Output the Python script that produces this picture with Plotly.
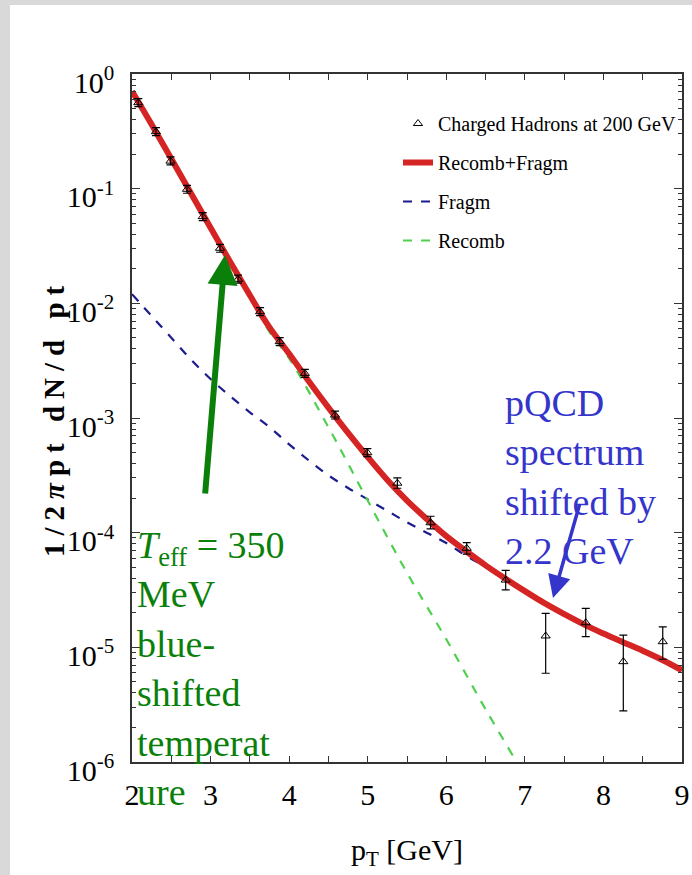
import plotly.graph_objects as go

# ---------------- data ----------------
# measured charged hadron spectrum (triangles with error bars)
pt_data = [2.08, 2.305, 2.49, 2.70, 2.90, 3.12, 3.35, 3.63, 3.88, 4.20,
           4.584, 4.995, 5.377, 5.80, 6.26, 6.756, 7.265, 7.775, 8.253, 8.755]
yield_data = [0.562, 0.314, 0.174, 0.0988, 0.057, 0.0302, 0.0162, 0.00845, 0.00463, 0.00245,
              0.00106, 0.000498, 0.00027, 0.000122, 7.31e-5, 3.86e-5, 1.256e-5, 1.64e-5, 7.5e-6, 1.12e-5]
yield_hi = [0.609, 0.340, 0.189, 0.107, 0.0618, 0.0327, 0.0176, 0.00916, 0.00502, 0.00266,
            0.00115, 0.00054, 0.000300, 0.000139, 8.2e-5, 4.69e-5, 1.98e-5, 2.19e-5, 1.28e-5, 1.51e-5]
yield_lo = [0.519, 0.290, 0.161, 0.0912, 0.0526, 0.0279, 0.0150, 0.0078, 0.00427, 0.00226,
            0.00098, 0.00046, 0.000244, 0.000108, 6.5e-5, 3.17e-5, 5.94e-6, 1.24e-5, 2.79e-6, 7.87e-6]

# model curves, log10 of the yield
pt_curve = [2.0, 2.25, 2.5, 2.75, 3.0, 3.25, 3.5, 3.75, 4.0, 4.25, 4.5, 4.75, 5.0, 5.25, 5.5,
            5.75, 6.0, 6.25, 6.5, 6.75, 7.0, 7.25, 7.5, 7.75, 8.0, 8.25, 8.5, 8.75, 9.0]
total_log10 = [-0.15, -0.44, -0.74, -1.04, -1.34, -1.64, -1.93, -2.21, -2.44, -2.68, -2.91, -3.13,
               -3.34, -3.54, -3.72, -3.88, -4.03, -4.16, -4.285, -4.40, -4.51, -4.615, -4.71, -4.80,
               -4.88, -4.955, -5.03, -5.11, -5.20]
fragm_log10 = [-1.92, -2.11, -2.30, -2.49, -2.66, -2.81, -2.95, -3.08, -3.23, -3.37, -3.50, -3.61,
               -3.71, -3.81, -3.91, -4.00, -4.09, -4.20, -4.30, -4.41, -4.51, -4.615, -4.71, -4.80,
               -4.88, -4.955, -5.03, -5.11, -5.20]
pt_recomb = [2.0, 2.5, 3.0, 3.5, 3.75, 4.0, 4.5, 5.0, 5.5, 6.0, 6.5, 7.0]
recomb_log10 = [-0.16, -0.75, -1.35, -1.95, -2.25, -2.48, -3.08, -3.72, -4.35, -4.93, -5.54, -6.12]

x_ticks = [2, 3, 4, 5, 6, 7, 8, 9]
y_tick_exp = [0, -1, -2, -3, -4, -5, -6]

# ---------------- figure ----------------
SERIF = "Liberation Serif, Times New Roman, serif"
W, H = 692, 875
L, R, T, B = 132, 10, 74, 113
PW, PH = W - L - R, H - T - B


def px_x(p):
    return (p - L) / PW


def px_y(p):
    return (H - B - p) / PH


fig = go.Figure()

fig.add_trace(go.Scatter(
    x=pt_curve, y=[10 ** v for v in fragm_log10], mode="lines", name="Fragm",
    line=dict(color="#1c1c8c", width=2.2, dash="dash", shape="spline"), legendrank=3, legendgroup="c"))
fig.add_trace(go.Scatter(
    x=pt_recomb, y=[10 ** v for v in recomb_log10], mode="lines", name="Recomb",
    line=dict(color="#4fd04f", width=2.2, dash="dash", shape="spline"), legendrank=4, legendgroup="d"))
fig.add_trace(go.Scatter(
    x=pt_curve, y=[10 ** v for v in total_log10], mode="lines", name="Recomb+Fragm",
    line=dict(color="#d42424", width=6, shape="spline"), legendrank=2, legendgroup="b"))
fig.add_trace(go.Scatter(
    x=pt_data, y=yield_data, mode="markers", name="Charged Hadrons at 200 GeV",
    marker=dict(symbol="triangle-up-open", size=8, color="black", line=dict(width=1)),
    error_y=dict(type="data", symmetric=False,
                 array=[h - v for h, v in zip(yield_hi, yield_data)],
                 arrayminus=[v - l for l, v in zip(yield_lo, yield_data)],
                 color="black", thickness=1.2, width=4),
    legendrank=1, legendgroup="a"))

fig.update_xaxes(
    range=[2, 9], tickmode="array", tickvals=x_ticks, ticktext=[str(v) for v in x_ticks],
    ticks="inside", ticklen=6, tickcolor="#333", showline=True, linecolor="#333", linewidth=1.5,
    mirror="ticks", showgrid=False, zeroline=False,
    minor=dict(dtick=0.5, ticks="inside", ticklen=6, tickcolor="#333", showgrid=False),
    tickfont=dict(family=SERIF, size=30, color="black"), ticklabelstandoff=5,
)
fig.update_yaxes(
    type="log", range=[-6, 0], tickmode="array", tickvals=[10 ** e for e in y_tick_exp],
    ticktext=["10<sup>%d</sup>" % e for e in y_tick_exp],
    ticks="inside", ticklen=8, tickcolor="#333", showline=True, linecolor="#333", linewidth=1.5,
    mirror="ticks", showgrid=False, zeroline=False,
    minor=dict(dtick="D1", ticks="inside", ticklen=4, tickcolor="#333", showgrid=False),
    tickfont=dict(family=SERIF, size=30, color="black"), ticklabelstandoff=10, ticklabelshift=8,
)

fig.update_layout(
    width=W, height=H, margin=dict(l=L, r=R, t=T, b=B, autoexpand=False),
    paper_bgcolor="#d9d9d9", plot_bgcolor="white",
    showlegend=True,
    legend=dict(x=px_x(398), y=px_y(104), xanchor="left", yanchor="top",
                bgcolor="rgba(0,0,0,0)", font=dict(family=SERIF, size=20, color="black"),
                traceorder="grouped", tracegroupgap=10, itemwidth=30),
    shapes=[dict(type="rect", xref="paper", yref="paper", x0=px_x(10), x1=px_x(700),
                 y0=px_y(890), y1=px_y(5), fillcolor="white", line=dict(width=0), layer="below")],
)

annotations = [
    # y axis title
    dict(text="<b><span style='letter-spacing:7px'>1/2<i>π</i>pt dN/d pt</span></b>",
         xref="paper", yref="paper", x=px_x(54), y=px_y(418),
         textangle=-90, showarrow=False, font=dict(family=SERIF, size=29, color="black"),
         xanchor="center", yanchor="middle"),
    # x axis title
    dict(text="p<sub>T</sub> [GeV]", xref="paper", yref="paper", x=px_x(407), y=px_y(852),
         showarrow=False, font=dict(family=SERIF, size=30, color="black"),
         xanchor="center", yanchor="middle"),
    # green annotation text
    dict(text="<i>T</i><sub>eff</sub> = 350<br>MeV<br>blue-<br>shifted<br>temperat<br>ure",
         xref="paper", yref="paper", x=px_x(135), y=px_y(522), align="left",
         showarrow=False, font=dict(family=SERIF, size=38, color="#0a7f0a"),
         xanchor="left", yanchor="top"),
    # blue annotation text
    dict(text="pQCD<br>spectrum<br>shifted by<br>2.2 GeV",
         xref="paper", yref="paper", x=px_x(503), y=px_y(380), align="left",
         showarrow=False, font=dict(family=SERIF, size=38, color="#3535cc"),
         xanchor="left", yanchor="top"),
    # green arrow
    dict(text="", x=3.184, y=-1.578, xref="x", yref="y", ax=-20, ay=240, axref="pixel", ayref="pixel",
         showarrow=True, arrowhead=2, arrowsize=1, arrowwidth=6, arrowcolor="#0a7f0a"),
    # blue arrow
    dict(text="", x=7.358, y=-4.57, xref="x", yref="y", ax=27, ay=-95, axref="pixel", ayref="pixel",
         showarrow=True, arrowhead=2, arrowsize=1.3, arrowwidth=3.5, arrowcolor="#3535cc"),
]
fig.update_layout(annotations=annotations)

fig.write_html("out.html")
